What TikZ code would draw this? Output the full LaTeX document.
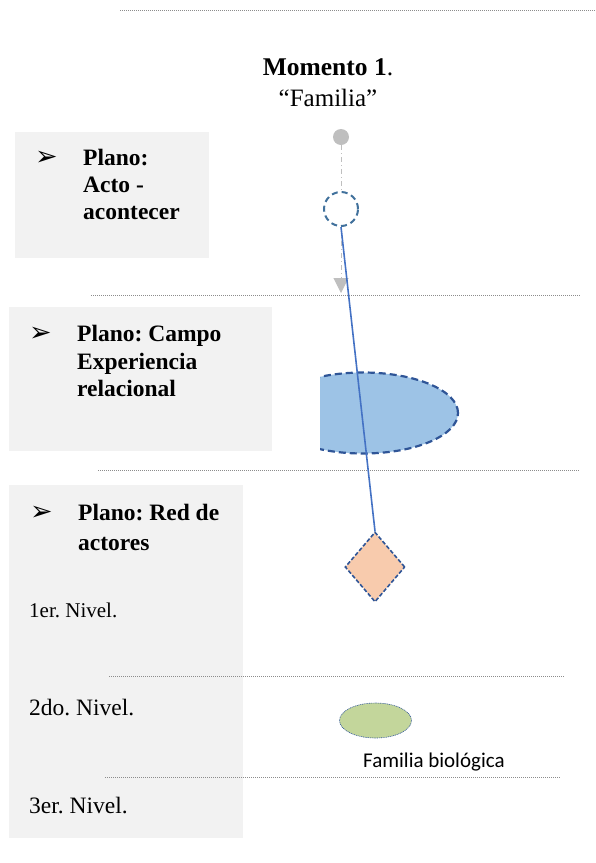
\documentclass[tikz,border=0pt]{standalone}
\usepackage{fontspec}
\setmainfont{Liberation Serif}
\newfontfamily\dingfont{DejaVu Sans}
\newfontfamily\calfont{Carlito}
\usetikzlibrary{shapes.geometric,arrows.meta}
\definecolor{boxgray}{HTML}{F2F2F2}
\definecolor{sepgray}{HTML}{8C8C8C}
\definecolor{dotgray}{HTML}{BFBFBF}
\definecolor{darkblue}{HTML}{41719C}
\definecolor{navy}{HTML}{2F5597}
\definecolor{lineblue}{HTML}{4472C4}
\definecolor{lightblue}{HTML}{9DC3E6}
\definecolor{peach}{HTML}{F8CBAD}
\definecolor{leaf}{HTML}{C3D69B}
\frenchspacing
\begin{document}
\begin{tikzpicture}[x=1pt,y=-1pt,
  planebox/.style={fill=boxgray,draw=none},
  sepline/.style={draw=sepgray,line width=0.7pt,dash pattern=on 1pt off 1pt},
  btxt/.style={inner sep=0pt,anchor=base west,font=\fontsize{23.5}{27}\selectfont\bfseries},
  rtxt/.style={inner sep=0pt,anchor=base west,font=\fontsize{23.5}{27}\selectfont},
  bullet/.style={inner sep=0pt,anchor=base west,font=\fontsize{27}{30}\selectfont\dingfont},
]
\useasboundingbox (0,0) rectangle (595,863);

% gray plane boxes
\fill[planebox] (15,132) rectangle (209,258);
\fill[planebox] (9,307) rectangle (272,451);
\fill[planebox] (9,485) rectangle (243,838);

% separator lines
\draw[sepline] (120,10) -- (595,10);
\draw[sepline] (91,295) -- (580,295);
\draw[sepline] (98,470) -- (580,470);
\draw[sepline] (109,676) -- (565,676);
\draw[sepline] (105,777) -- (560,777);

% title
\node[inner sep=0pt,anchor=base,font=\fontsize{25.5}{30}\selectfont] (title) at (328,75) {\textbf{Momento 1}.};
\node[inner sep=0pt,anchor=base,font=\fontsize{25}{30}\selectfont] (subtitle) at (328,106) {“Familia”};

% box 1
\node[bullet] (b1) at (35,165) {➢};
\node[btxt] (p1a) at (83,165) {Plano:};
\node[btxt] (p1b) at (83,192) {Acto -};
\node[btxt] (p1c) at (83,219) {acontecer};

% box 2
\node[bullet] (b2) at (29,341) {➢};
\node[btxt] (p2a) at (77,341) {Plano: Campo};
\node[btxt] (p2b) at (77,369) {Experiencia};
\node[btxt] (p2c) at (77,396) {relacional};

% box 3
\node[bullet] (b3) at (30,520) {➢};
\node[btxt] (p3a) at (78,520) {Plano: Red de};
\node[btxt] (p3b) at (78,550) {actores};
\node[inner sep=0pt,anchor=base west,font=\fontsize{21}{25}\selectfont] (n1) at (29,617) {1er. Nivel.};
\node[rtxt] (n2) at (29,715) {2do. Nivel.};
\node[rtxt] (n3) at (29,813) {3er. Nivel.};

% acto: gray dot, dash-dot arrow
\node[circle,fill=dotgray,draw=none,minimum size=16pt,inner sep=0pt] (dot) at (341,137) {};
\coordinate (tip) at (341,293);
\draw[dotgray,line width=1pt,dash pattern=on 5pt off 3pt on 1pt off 3pt,
      -{Triangle[width=15pt,length=15pt]}] (dot) -- (tip);
\node[circle,fill=white,draw=darkblue,line width=2pt,dash pattern=on 6pt off 4pt,
      minimum size=34pt,inner sep=0pt] (acto) at (341,209) {};

% campo: blue ellipse clipped at left
\begin{scope}
  \clip (320,360) rectangle (480,470);
  \node[ellipse,fill=lightblue,draw=navy,line width=2.2pt,dash pattern=on 7pt off 4pt,
        minimum width=190pt,minimum height=81pt,inner sep=0pt] (campo) at (363,413) {};
\end{scope}

% red de actores: diamond
\node[diamond,fill=peach,draw=navy,line width=1.6pt,dash pattern=on 4pt off 2pt,
      minimum width=60pt,minimum height=70pt,aspect=0.857,inner sep=0pt] (actor) at (375,567) {};

% connector
\draw[lineblue,line width=1.6pt] (acto.south) -- (actor.north);

% familia biologica
\node[ellipse,fill=leaf,draw=navy,line width=0.6pt,dash pattern=on 1pt off 0.8pt,
      minimum width=72pt,minimum height=35pt,inner sep=0pt] (fam) at (375.5,720.5) {};
\node[inner sep=0pt,anchor=base west,font=\fontsize{21}{25}\selectfont\calfont] (famlabel) at (363,767) {Familia biológica};
\end{tikzpicture}
\end{document}
